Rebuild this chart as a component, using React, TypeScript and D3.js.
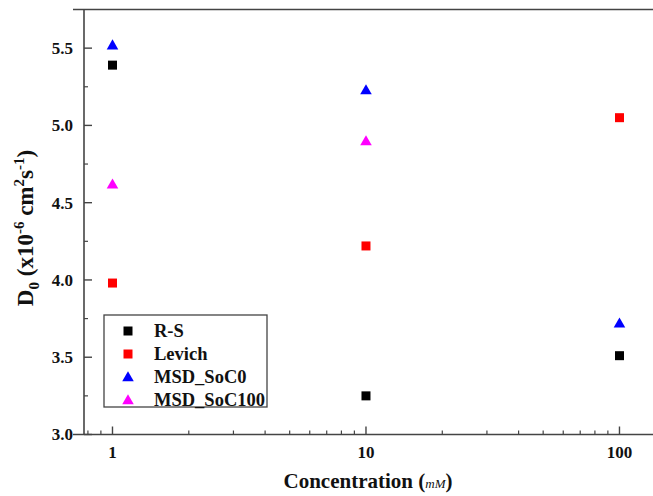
import React from "react";
import * as d3 from "d3";

const concentrations = [1, 10, 100];
const rsValues = [5.39, 3.25, 3.51];
const levichValues = [3.98, 4.22, 5.05];
const soc0Values = [5.52, 5.23, 3.72];
const soc100Values = [4.62, 4.9, null];

const seriesNames = ["R-S", "Levich", "MSD_SoC0", "MSD_SoC100"];
const seriesColors = ["#000000", "#ff0000", "#0000ff", "#ff00ff"];
const seriesShapes = ["square", "square", "triangle", "triangle"];
const seriesValues = [rsValues, levichValues, soc0Values, soc100Values];

const xMajorTicks = [1, 10, 100];
const xMinorTicks = [0.8, 0.9, 2, 3, 4, 5, 6, 7, 8, 9, 20, 30, 40, 50, 60, 70, 80, 90];
const yMajorTicks = [3.0, 3.5, 4.0, 4.5, 5.0, 5.5];
const yMinorTicks = [3.25, 3.75, 4.25, 4.75, 5.25];

const FONT = "Liberation Serif, Times New Roman, Times, DejaVu Serif, serif";

const W = 653;
const H = 496;
const left = 84;
const right = 653;
const top = 9.5;
const bottom = 434.5;

export default function App() {
  const x = d3.scaleLog().domain([0.772, 135.6]).range([left, right]);
  const y = d3.scaleLinear().domain([3.0, 5.75]).range([bottom, top]);
  const axisColor = "#444";

  const sq = d3.symbol().type(d3.symbolSquare).size(81);
  const tri = d3.symbol().type(d3.symbolTriangle).size(58);

  const marker = (shape: string, color: string, cx: number, cy: number, key: string) => (
    <path
      key={key}
      d={(shape === "square" ? sq : tri)() as string}
      transform={`translate(${cx},${cy + (shape === "triangle" ? 1 : 0)})`}
      fill={color}
    />
  );

  return (
    <svg
      width={W}
      height={H}
      style={{ position: "absolute", left: 0, top: 0, background: "#fff", fontFamily: FONT }}
    >
      <rect x={0} y={0} width={W} height={H} fill="#fff" />
      <line x1={73} x2={right} y1={top} y2={top} stroke={axisColor} strokeWidth={1.6} />
      <line x1={73} x2={right} y1={bottom} y2={bottom} stroke={axisColor} strokeWidth={1.6} />
      <line x1={left} x2={left} y1={top} y2={bottom} stroke={axisColor} strokeWidth={1.6} />

      {xMajorTicks.map((t) => (
        <g key={"xm" + t}>
          <line x1={x(t)} x2={x(t)} y1={bottom} y2={bottom - 8} stroke={axisColor} strokeWidth={1.4} />
          <text x={x(t)} y={458} textAnchor="middle" fontSize={17} fontWeight="bold" fill="#111">
            {t}
          </text>
        </g>
      ))}
      {xMinorTicks.map((t) => (
        <line key={"xn" + t} x1={x(t)} x2={x(t)} y1={bottom} y2={bottom - 4} stroke={axisColor} strokeWidth={1.2} />
      ))}

      {yMajorTicks.map((t) => (
        <g key={"ym" + t}>
          <line x1={left} x2={left + 8} y1={y(t)} y2={y(t)} stroke={axisColor} strokeWidth={1.4} />
          <text x={73} y={y(t)} dy="0.35em" textAnchor="end" fontSize={17} fontWeight="bold" fill="#111">
            {t.toFixed(1)}
          </text>
        </g>
      ))}
      {yMinorTicks.map((t) => (
        <line key={"yn" + t} x1={left} x2={left + 4} y1={y(t)} y2={y(t)} stroke={axisColor} strokeWidth={1.2} />
      ))}

      {seriesValues.map((vals, si) =>
        vals.map((v, i) =>
          v == null ? null : marker(seriesShapes[si], seriesColors[si], x(concentrations[i]), y(v), `p${si}-${i}`)
        )
      )}

      <rect x={104} y={315} width={163} height={92} fill="#fff" stroke={axisColor} strokeWidth={1.3} />
      {seriesNames.map((n, i) => {
        const cy = 331 + i * 23;
        return (
          <g key={"lg" + n}>
            {marker(seriesShapes[i], seriesColors[i], 128, cy, "lm" + i)}
            <text x={154} y={cy} dy="0.35em" fontSize={18.5} fontWeight="bold" fill="#111">
              {n}
            </text>
          </g>
        );
      })}

      <text x={368} y={488} textAnchor="middle" fontSize={21} fontWeight="bold" fill="#111">
        Concentration (
        <tspan fontStyle="italic" fontWeight="normal" fontSize={13}>mM</tspan>
        )
      </text>

      <text
        transform={`translate(33, 228) rotate(-90)`}
        textAnchor="middle"
        fontSize={23}
        fontWeight="bold"
        fill="#111"
      >
        D<tspan fontSize={15} dy={6}>0</tspan>
        <tspan dy={-6}> (x10</tspan>
        <tspan fontSize={15} dy={-9}>-6</tspan>
        <tspan dy={9}> cm</tspan>
        <tspan fontSize={15} dy={-9}>2</tspan>
        <tspan dy={9}>s</tspan>
        <tspan fontSize={15} dy={-9}>-1</tspan>
        <tspan dy={9}>)</tspan>
      </text>
    </svg>
  );
}
